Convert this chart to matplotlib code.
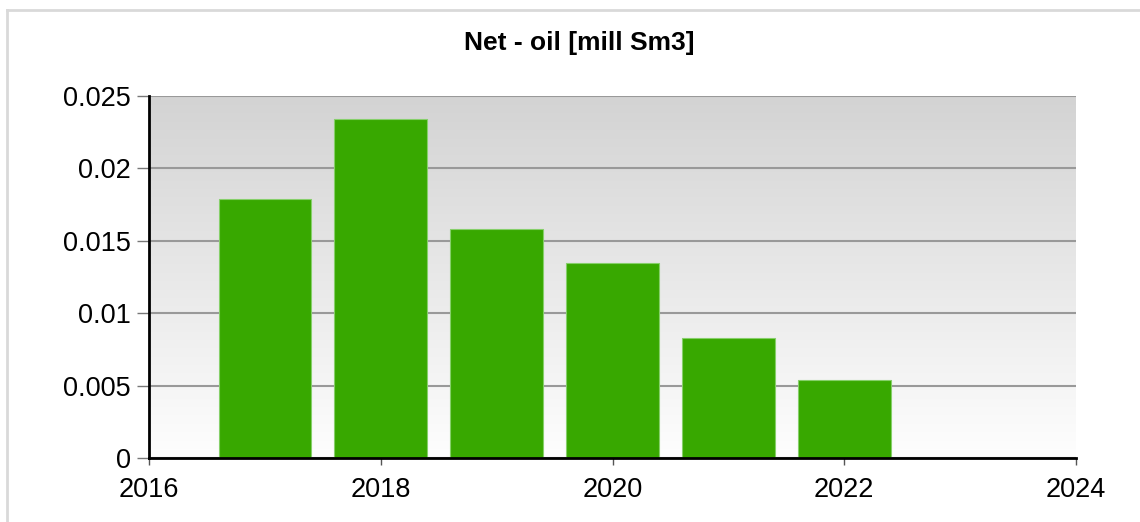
import numpy as np
import matplotlib
matplotlib.use("Agg")
import matplotlib.pyplot as plt
from matplotlib.lines import Line2D
from matplotlib.ticker import FuncFormatter

# data
years = [2017, 2018, 2019, 2020, 2021, 2022]
net_oil = [0.0179, 0.0234, 0.0158, 0.0135, 0.0083, 0.0054]
title = "Net - oil [mill Sm3]"

plt.rcParams['font.family'] = ['Liberation Sans', 'DejaVu Sans']

fig = plt.figure(figsize=(11.4, 5.22), dpi=100)
fig.patch.set_facecolor('white')

# light grey frame at top and left
fig.add_artist(Line2D([7/1140, 1.01], [1 - 10/522, 1 - 10/522], transform=fig.transFigure,
                      color='#d9d9d9', lw=2))
fig.add_artist(Line2D([7/1140, 7/1140], [0, 1 - 10/522], transform=fig.transFigure,
                      color='#d9d9d9', lw=2))

ax = fig.add_axes([149/1140, 1 - 458/522, (1076 - 149)/1140, (458 - 96)/522])

# gradient background, grey at top to white at bottom
grad = np.linspace(0, 1, 256).reshape(-1, 1)
ax.imshow(grad, extent=[0, 1, 0, 1], transform=ax.transAxes, aspect='auto',
          cmap=matplotlib.colors.LinearSegmentedColormap.from_list('g', ['#d3d3d3', '#fefefe']),
          origin='upper', zorder=0)

ax.bar(years, net_oil, width=0.8, color='#38a800', edgecolor='#86cf6a', linewidth=0.8, zorder=3)

ax.set_xlim(2016, 2024)
ax.set_ylim(0, 0.025)
ax.set_xticks([2016, 2018, 2020, 2022, 2024])
ax.set_yticks([0, 0.005, 0.01, 0.015, 0.02, 0.025])
ax.yaxis.set_major_formatter(FuncFormatter(lambda v, p: '%g' % round(v, 4)))

ax.grid(axis='y', color='#999999', lw=1.5, zorder=1)
ax.set_axisbelow(True)

for s in ['top', 'right']:
    ax.spines[s].set_visible(False)
ax.spines['left'].set_linewidth(2)
ax.spines['bottom'].set_linewidth(2)
ax.spines['left'].set_zorder(4)
ax.spines['bottom'].set_zorder(4)

ax.tick_params(axis='y', length=9, width=1, color='#777777', labelsize=19.5, pad=4)
ax.tick_params(axis='x', length=5, width=1, color='#555555', labelsize=19.5, pad=9)

fig.text(0.5085, 1 - 43/522, title, ha='center', va='center', fontsize=19, fontweight='bold')

fig.savefig('out.png', dpi=100)
